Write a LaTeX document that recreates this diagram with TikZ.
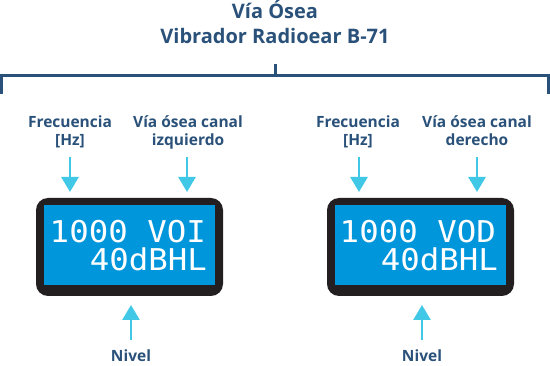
\documentclass[tikz,border=0pt]{standalone}
\usepackage{fontspec}
\usepackage{graphicx}
\setmainfont{Open Sans}
\newfontfamily\lcdfont{DejaVu Sans Mono}
\usetikzlibrary{arrows.meta}
\definecolor{navy}{HTML}{2A5179}
\definecolor{cyanarrow}{HTML}{40C8E6}
\definecolor{lcdframe}{HTML}{231F20}
\definecolor{lcdblue}{HTML}{0096DB}
\tikzset{
  title/.style={font=\fontsize{20}{25}\selectfont\bfseries, text=navy, inner sep=0pt, anchor=base},
  lbl/.style={font=\fontsize{15.5}{18}\selectfont\bfseries, text=navy, inner sep=0pt, anchor=base, align=center},
  arr/.style={draw=cyanarrow, line width=2.6pt, -{Triangle[width=17pt,length=15pt]}},
  bracket/.style={draw=navy, line width=3pt},
  frame/.style={fill=lcdframe, rounded corners=12pt},
  screen/.style={fill=lcdblue},
  lcd/.style={font=\fontsize{30}{30}\lcdfont, text=white, inner sep=0pt, anchor=base east}
}
\begin{document}
\begin{tikzpicture}[x=1pt,y=-1pt]
\useasboundingbox (0,0) rectangle (550,366);
% title
\node[title] (t1) at (275,19) {Vía Ósea};
\node[title] (t2) at (275,44) {Vibrador Radioear B-71};
% bracket
\coordinate (bt) at (275,64);
\coordinate (bc) at (275,75.5);
\coordinate (bl) at (1.5,75.5);
\coordinate (br) at (548.5,75.5);
\coordinate (bld) at (1.5,94);
\coordinate (brd) at (548.5,94);
\draw[bracket] (bt) -- (bc);
\draw[bracket] (bld) -- (bl) -- (br) -- (brd);
% left display
\path[frame] (36,198) rectangle (223,296);
\node[screen, minimum width=171pt, minimum height=80pt, inner sep=0pt, anchor=north west] (dl) at (44,205) {};
\node[lcd] (dl1) at (206,243) {\scalebox{1.08}[1]{1000 VOI}};
\node[lcd] (dl2) at (207,271) {\scalebox{1.08}[1]{40dBHL}};
% right display
\path[frame] (327,198) rectangle (514,296);
\node[screen, minimum width=171pt, minimum height=80pt, inner sep=0pt, anchor=north west] (dr) at (335,205) {};
\node[lcd] (dr1) at (496,243) {\scalebox{1.08}[1]{1000 VOD}};
\node[lcd] (dr2) at (498,271) {\scalebox{1.08}[1]{40dBHL}};
% labels
\node[lbl] (lf) at (70,146) {Frecuencia\\{[Hz]}};
\node[lbl] (lc) at (188,146) {Vía ósea canal\\izquierdo};
\node[lbl] (rf) at (358,146) {Frecuencia\\{[Hz]}};
\node[lbl] (rc) at (477,146) {Vía ósea canal\\derecho};
\node[lbl] (ln) at (131,362) {Nivel};
\node[lbl] (rn) at (422,362) {Nivel};
% arrows
\coordinate (a1s) at (70,157);   \coordinate (a1e) at (70,192);
\coordinate (a2s) at (187,157);  \coordinate (a2e) at (187,192);
\coordinate (a3s) at (359,157);  \coordinate (a3e) at (359,192);
\coordinate (a4s) at (477,157);  \coordinate (a4e) at (477,192);
\coordinate (a5s) at (131,340);  \coordinate (a5e) at (131,305);
\coordinate (a6s) at (422,340);  \coordinate (a6e) at (422,305);
\foreach \s/\e in {a1s/a1e,a2s/a2e,a3s/a3e,a4s/a4e,a5s/a5e,a6s/a6e}
  \draw[arr] (\s) -- (\e);
\end{tikzpicture}
\end{document}
